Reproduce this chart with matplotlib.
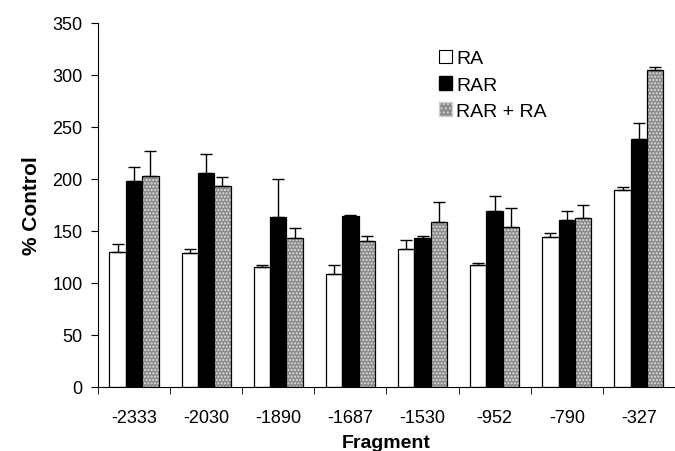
import matplotlib
matplotlib.use("Agg")
import matplotlib.pyplot as plt
import numpy as np
from matplotlib.patches import Patch

plt.rcParams['font.family'] = ['Liberation Sans', 'DejaVu Sans']

fragments = ['-2333', '-2030', '-1890', '-1687', '-1530', '-952', '-790', '-327']
ra = [130, 128.5, 115, 108.5, 133, 117, 144, 189]
ra_err = [7, 4.5, 2.5, 9, 8, 2.5, 3.5, 3]
rar = [198, 205.5, 163, 164, 143, 169, 160, 238]
rar_err = [13.5, 18.5, 37, 1.7, 2.5, 15, 9, 15.5]
rar_ra = [202.5, 193, 143, 140, 159, 153.5, 162.5, 305]
rar_ra_err = [24.5, 8.5, 9.5, 5.5, 19, 18.5, 12, 3]

x = np.arange(len(fragments))
w = 0.227

fig = plt.figure(figsize=(6.75, 4.52), dpi=100)
ax = fig.add_axes([0.145, 0.142, 0.855, 0.805])

err_kw = dict(ecolor='black', elinewidth=1, capsize=4, capthick=1)
zeros = [0] * len(fragments)

ax.bar(x - w, ra, w, color='white', edgecolor='black', linewidth=0.9,
       yerr=[zeros, ra_err], error_kw=err_kw, zorder=2)
ax.bar(x, rar, w, color='black', edgecolor='black', linewidth=0.9,
       yerr=[zeros, rar_err], error_kw=err_kw, zorder=2)
ax.bar(x + w, rar_ra, w, color='#8a8a8a', edgecolor='#e0e0e0', linewidth=0,
       hatch='.....', zorder=2)
ax.bar(x + w, rar_ra, w, color='none', edgecolor='black', linewidth=0.9,
       yerr=[zeros, rar_ra_err], error_kw=err_kw, zorder=3)

ax.set_xlim(-0.5, len(fragments) - 0.5)
ax.set_ylim(0, 350)
ax.set_yticks(range(0, 351, 50))
ax.set_xticks(x)
ax.set_xticklabels(fragments, fontsize=13)
ax.set_xticks(np.arange(-0.5, len(fragments)), minor=True)
ax.tick_params(axis='x', which='major', length=0, pad=16)
ax.tick_params(axis='x', which='minor', length=5, direction='out')
ax.tick_params(axis='y', labelsize=13, length=5, direction='out', pad=6)

for s in ['top', 'right']:
    ax.spines[s].set_visible(False)

ax.set_ylabel('% Control', fontsize=15, fontweight='bold', labelpad=8)
ax.set_xlabel('Fragment', fontsize=14, fontweight='bold', labelpad=6)

handles = [
    Patch(facecolor='white', edgecolor='black', linewidth=0.8, label='RA'),
    Patch(facecolor='black', edgecolor='black', label='RAR'),
    Patch(facecolor='#8a8a8a', edgecolor='#d0d0d0', hatch='....', label='RAR + RA'),
]
ax.legend(handles=handles, loc='upper left', bbox_to_anchor=(0.56, 0.975),
          frameon=False, fontsize=14, handlelength=0.7, handleheight=0.7,
          handletextpad=0.2, labelspacing=0.45)

fig.savefig('out.png', dpi=100)
